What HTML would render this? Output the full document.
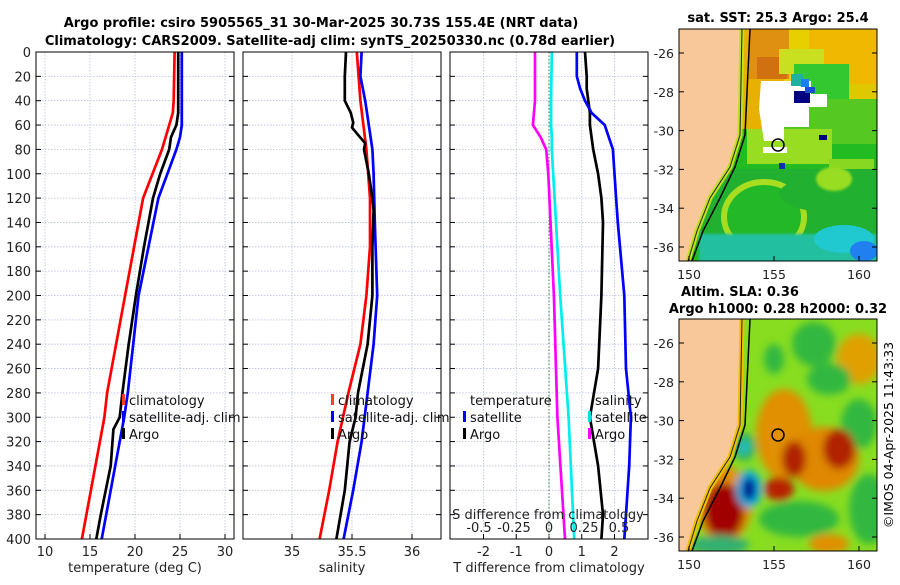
<!DOCTYPE html>
<html><head><meta charset="utf-8"><style>
body{margin:0;background:#fff;}
svg text{font-family:"DejaVu Sans","Liberation Sans",sans-serif;}
</style></head><body>
<svg id="fig" width="900" height="580" viewBox="0 0 900 580" xmlns="http://www.w3.org/2000/svg">
<defs>
<clipPath id="c1"><rect x="0" y="0" width="198" height="232"/></clipPath>
<filter id="bl" x="-20%" y="-20%" width="140%" height="140%"><feGaussianBlur stdDeviation="4"/></filter>
<filter id="bl2"><feGaussianBlur stdDeviation="1.2"/></filter>
</defs>
<text x="321" y="27" font-size="13" font-weight="bold" text-anchor="middle">Argo profile: csiro 5905565_31 30-Mar-2025 30.73S 155.4E (NRT data)</text>
<text x="330" y="45" font-size="13" font-weight="bold" text-anchor="middle">Climatology: CARS2009. Satellite-adj clim: synTS_20250330.nc (0.78d earlier)</text>
<g id="plots"></g>

<!-- Map 1 -->
<text x="778" y="22" font-size="13" font-weight="bold" text-anchor="middle">sat. SST: 25.3 Argo: 25.4</text>
<g transform="translate(679,29)">
 <g clip-path="url(#c1)">
  <rect width="198" height="232" fill="#22bb22"/>
  <rect width="198" height="75" fill="#e8d000"/>
  <rect x="130" y="0" width="68" height="60" fill="#f0b800"/>
  <rect x="150" y="55" width="48" height="22" fill="#e0c800"/>
  <rect x="60" y="0" width="45" height="100" fill="#e8b000"/>
  <rect x="70" y="0" width="40" height="50" fill="#e09010"/>
  <rect x="78" y="28" width="30" height="22" fill="#d07010"/>
  <rect x="100" y="20" width="45" height="25" fill="#c8e020"/>
  <rect x="115" y="35" width="55" height="35" fill="#33c830"/>
  <rect x="95" y="70" width="103" height="45" fill="#55c822"/>
  <rect x="68" y="100" width="85" height="35" fill="#99dd22"/>
  <rect x="150" y="130" width="45" height="40" fill="#88d822"/>
  <polygon points="82,52 132,52 132,65 148,65 148,78 130,78 130,98 105,98 105,112 85,112 80,80" fill="#fff"/>
  <rect x="84" y="118" width="24" height="6" fill="#fff"/>
  <rect x="115" y="62" width="16" height="12" fill="#000080"/>
  <rect x="126" y="58" width="10" height="6" fill="#1a50d0"/>
  <rect x="112" y="45" width="12" height="12" fill="#20b0a0"/>
  <rect x="122" y="50" width="8" height="8" fill="#1a80f0"/>
  <rect x="140" y="106" width="8" height="5" fill="#000080"/>
  <rect x="100" y="134" width="6" height="6" fill="#1030b0"/>
  <rect x="20" y="140" width="178" height="95" fill="#22b030"/>
  <ellipse cx="85" cy="188" rx="40" ry="35" fill="#22b828" stroke="#a8dd22" stroke-width="6"/>
  <ellipse cx="150" cy="165" rx="50" ry="18" fill="#22b030"/>
  <ellipse cx="155" cy="150" rx="18" ry="12" fill="#99dd22" filter="url(#bl2)"/>
  <rect x="20" y="205" width="178" height="30" fill="#22c0a0" filter="url(#bl2)"/>
  <ellipse cx="165" cy="210" rx="30" ry="14" fill="#20c8d0"/>
  <ellipse cx="185" cy="222" rx="14" ry="10" fill="#2080f0"/>
  <polygon points="0,0 63,0 61,106 51,138 31,169 18,202 9,232 0,232" fill="#f9c89a"/>
  <polyline points="63,0 61,106 51,138 31,169 18,202 9,232" fill="none" stroke="#c0e020" stroke-width="5"/>
  <polyline points="63,0 61,106 51,138 31,169 18,202 9,232" fill="none" stroke="#222" stroke-width="1"/>
  <polyline points="71,0 66,106 56,138 41,169 24,202 13,232" fill="none" stroke="#000" stroke-width="1.5"/>
  <circle cx="99" cy="116" r="6" fill="none" stroke="#000" stroke-width="1.5"/>
 </g>
 <rect width="198" height="232" fill="none" stroke="#000" stroke-width="1"/>
</g>
<text x="740" y="296" font-size="13" font-weight="bold" text-anchor="middle">Altim. SLA: 0.36</text>
<text x="778" y="313" font-size="13" font-weight="bold" text-anchor="middle">Argo h1000: 0.28 h2000: 0.32</text>
<g transform="translate(679,319)">
 <g clip-path="url(#c1)">
  <rect width="198" height="232" fill="#88dd20"/>
  <g filter="url(#bl)">
   <ellipse cx="135" cy="25" rx="22" ry="22" fill="#30b840"/>
   <ellipse cx="180" cy="40" rx="22" ry="25" fill="#e0a000"/>
   <ellipse cx="150" cy="60" rx="22" ry="16" fill="#30b840"/>
   <ellipse cx="95" cy="40" rx="10" ry="15" fill="#30b840"/>
   <ellipse cx="180" cy="105" rx="18" ry="25" fill="#30b840"/>
   <ellipse cx="105" cy="115" rx="28" ry="45" fill="#e09000"/>
   <ellipse cx="145" cy="140" rx="35" ry="32" fill="#e08800"/>
   <ellipse cx="115" cy="140" rx="12" ry="18" fill="#b02000"/>
   <ellipse cx="160" cy="130" rx="16" ry="20" fill="#b02000"/>
   <ellipse cx="120" cy="200" rx="40" ry="18" fill="#30b840"/>
   <ellipse cx="100" cy="170" rx="15" ry="12" fill="#b82000"/>
   <ellipse cx="45" cy="185" rx="28" ry="38" fill="#e09000"/>
   <ellipse cx="45" cy="192" rx="20" ry="28" fill="#a00000"/>
   <ellipse cx="70" cy="170" rx="13" ry="19" fill="#10b0e0"/>
   <ellipse cx="70" cy="170" rx="7" ry="12" fill="#000090"/>
   <ellipse cx="65" cy="128" rx="12" ry="14" fill="#30b060"/>
   <ellipse cx="65" cy="128" rx="6" ry="7" fill="#20c0c0"/>
   <ellipse cx="190" cy="190" rx="20" ry="35" fill="#30b840"/>
   <ellipse cx="40" cy="226" rx="30" ry="10" fill="#30b070"/>
   <ellipse cx="150" cy="225" rx="20" ry="10" fill="#e09000"/>
  </g>
  <polygon points="0,0 63,0 61,106 51,138 31,169 18,202 9,232 0,232" fill="#f9c89a"/>
  <polyline points="63,0 61,106 51,138 31,169 18,202 9,232" fill="none" stroke="#f0c000" stroke-width="5"/>
  <polyline points="63,0 61,106 51,138 31,169 18,202 9,232" fill="none" stroke="#222" stroke-width="1"/>
  <polyline points="71,0 66,106 56,138 41,169 24,202 13,232" fill="none" stroke="#000" stroke-width="1.5"/>
  <circle cx="99" cy="116" r="6" fill="none" stroke="#000" stroke-width="1.5"/>
 </g>
 <rect width="198" height="232" fill="none" stroke="#000" stroke-width="1"/>
</g>
<g id="maplabels"></g>
<text transform="translate(893,435) rotate(-90)" font-size="12.5" text-anchor="middle">©IMOS 04-Apr-2025 11:43:33</text>
</svg>
<script>
// ---- data ----
const depthsTClim = [0,40,50,80,120,200,280,300,400];
const tempClim    = [24.4,24.3,24.2,23.0,20.9,18.9,16.9,16.6,14.1];
const depthsTSat  = [0,60,70,80,100,120,200,280,300,400];
const tempSat     = [25.2,25.2,25.0,24.6,23.6,22.6,20.4,19.2,18.8,16.3];
const depthsTArgo = [0,50,60,70,80,100,120,160,200,240,280,300,310,340,380,400];
const tempArgo    = [24.8,24.8,24.6,24.0,23.8,22.8,22.0,21.0,20.1,19.3,18.6,18.3,17.6,17.3,16.2,15.7];
const depthsSClim = [0,40,80,120,160,200,240,280,320,360,400];
const salClim     = [35.54,35.57,35.62,35.65,35.65,35.62,35.57,35.47,35.38,35.31,35.23];
const depthsSSat  = [0,20,40,60,80,100,140,200,240,280,320,360,400];
const salSat      = [35.58,35.57,35.61,35.64,35.67,35.68,35.69,35.71,35.68,35.63,35.58,35.51,35.43];
const depthsSArgo = [0,20,40,50,58,62,68,75,80,100,120,130,160,200,240,280,300,320,360,400];
const salArgo     = [35.45,35.44,35.44,35.49,35.51,35.50,35.55,35.61,35.60,35.64,35.67,35.68,35.67,35.67,35.63,35.55,35.53,35.48,35.44,35.37];
const depthsDT    = [0,20,30,40,50,60,80,100,120,140,200,260,300,340,380,400];
const dTSat       = [0.85,0.85,0.95,1.1,1.3,1.7,1.95,2.0,2.05,2.1,2.3,2.35,2.5,2.45,2.35,2.3];
const dTArgo      = [1.1,1.15,1.15,1.2,1.25,1.25,1.35,1.5,1.6,1.65,1.6,1.5,1.25,1.5,1.65,1.6];
const depthsDS    = [0,40,60,70,80,100,200,300,400];
const dSArgo      = [-0.1,-0.1,-0.115,-0.06,-0.02,-0.005,0.035,0.06,0.114];
const dSSat       = [0.02,0.015,0.015,0.02,0.02,0.03,0.08,0.14,0.18];
const depthTicks  = [0,20,40,60,80,100,120,140,160,180,200,220,240,260,280,300,320,340,360,380,400];
const tempTicks   = [10,15,20,25,30];
const salTicks    = [35,35.5,36];
const dTTicks     = [-2,-1,0,1,2];
const dSTicks     = [-0.5,-0.25,0,0.25,0.5];
const latTicks    = [-26,-28,-30,-32,-34,-36];
const lonTicks    = [150,155,160];

const NS="http://www.w3.org/2000/svg";
const G=document.getElementById('plots');
function el(tag,attrs,parent){const e=document.createElementNS(NS,tag);for(const k in attrs)e.setAttribute(k,attrs[k]);(parent||G).appendChild(e);return e;}
const top0=52,bot0=539;
const yD=d=>top0+(bot0-top0)*d/400;
function lin(d0,d1,r0,r1){return v=>r0+(v-d0)*(r1-r0)/(d1-d0);}

const panels=[
 {x0:36,x1:234,sx:lin(10,30,45,225),ticks:tempTicks,label:'temperature (deg C)',name:'temperature-panel'},
 {x0:243,x1:441,sx:lin(35,36,292,412),ticks:salTicks,label:'salinity',name:'salinity-panel'},
 {x0:450,x1:648,sx:lin(-2,2,483.5,614.5),ticks:dTTicks,label:'T difference from climatology',name:'difference-panel'}
];
panels.forEach((p,i)=>{
 const g=el('g',{});
 
 
 el('rect',{x:p.x0,y:top0,width:p.x1-p.x0,height:bot0-top0,fill:'#fff'},g);
 depthTicks.forEach(d=>{
  const l=el('line',{x1:p.x0,x2:p.x1,y1:yD(d),y2:yD(d),stroke:'#b8c0dd','stroke-width':0.8,'stroke-dasharray':'1.5,1.5'},g);
  
  
  el('line',{x1:p.x0,x2:p.x0+5,y1:yD(d),y2:yD(d),stroke:'#000'},g);
  el('line',{x1:p.x1,x2:p.x1-5,y1:yD(d),y2:yD(d),stroke:'#000'},g);
  if(i===0){const t=el('text',{x:p.x0-5,y:yD(d)+5,'font-size':13,'text-anchor':'end',fill:'#222'},g);t.textContent=d;
   
   }
 });
 p.ticks.forEach(v=>{
  const x=p.sx(v);
  el('line',{x1:x,x2:x,y1:top0,y2:bot0,stroke:'#b8c0dd','stroke-width':0.8,'stroke-dasharray':'1.5,1.5'},g);
  el('line',{x1:x,x2:x,y1:bot0,y2:bot0-5,stroke:'#000'},g);
  const t=el('text',{x:x,y:bot0+17,'font-size':13,'text-anchor':'middle',fill:'#222'},g);t.textContent=v;
  
  
 });
 const lab=el('text',{x:(p.x0+p.x1)/2,y:572,'font-size':13,'text-anchor':'middle',fill:'#222'},g);lab.textContent=p.label;
 
 
});
el('line',{x1:549,x2:549,y1:top0,y2:bot0,stroke:'#447744','stroke-width':1,'stroke-dasharray':'1.5,2'});

function series(depths,vals,sx,color,name){
 const pts=vals.map((v,k)=>sx(v).toFixed(1)+','+yD(depths[k]).toFixed(1)).join(' ');
 const pl=el('polyline',{points:pts,fill:'none',stroke:color,'stroke-width':2.7,'stroke-linejoin':'round'});
 
 
}
const sT=panels[0].sx,sS=panels[1].sx,sDT=panels[2].sx,sDS=lin(-0.5,0.5,479,619);
series(depthsTClim,tempClim,sT,'#ff0000','temp-climatology-line');
series(depthsTSat,tempSat,sT,'#0000ff','temp-satellite-line');
series(depthsTArgo,tempArgo,sT,'#000','temp-argo-line');
series(depthsSClim,salClim,sS,'#ff0000','sal-climatology-line');
series(depthsSSat,salSat,sS,'#0000ff','sal-satellite-line');
series(depthsSArgo,salArgo,sS,'#000','sal-argo-line');
series(depthsDS,dSArgo,sDS,'#ff00ff','sdiff-argo-line');
series(depthsDS,dSSat,sDS,'#00eeee','sdiff-satellite-line');
series(depthsDT,dTArgo,sDT,'#000','tdiff-argo-line');
series(depthsDT,dTSat,sDT,'#0000ff','tdiff-satellite-line');

panels.forEach(p=>{
 const f=el('rect',{x:p.x0,y:top0,width:p.x1-p.x0,height:bot0-top0,fill:'none',stroke:'#000','stroke-width':1});
 
 
});
dSTicks.forEach(v=>{
 const t=el('text',{x:sDS(v),y:532,'font-size':13,'text-anchor':'middle',fill:'#222'});t.textContent=v;
 
 
});
{const t=el('text',{x:548,y:519,'font-size':13,'text-anchor':'middle',fill:'#222'});t.textContent='S difference from climatology';
 
 }

function legend(x,y,items){
 items.forEach((it,k)=>{
  const yy=y+k*17;
  if(it.c){el('rect',{x:x,y:yy-11,width:3,height:11,fill:it.c});}
  const t=el('text',{x:x+7,y:yy,'font-size':13,fill:'#111'});t.textContent=it.t;
  
  
 });
}
legend(122,405,[{c:'#ff4020',t:'climatology'},{c:'#0000ff',t:'satellite-adj. clim'},{c:'#000',t:'Argo'}]);
legend(331,405,[{c:'#ff4020',t:'climatology'},{c:'#0000ff',t:'satellite-adj. clim'},{c:'#000',t:'Argo'}]);
legend(463,405,[{t:'temperature'},{c:'#0000ff',t:'satellite'},{c:'#000',t:'Argo'}]);
legend(588,405,[{t:'salinity'},{c:'#00dddd',t:'satellite'},{c:'#ff00ff',t:'Argo'}]);

const ML=document.getElementById('maplabels');
[29,319].forEach((ty,m)=>{
 latTicks.forEach(la=>{
  const y=ty+24+(-26-la)*19.4;
  el('line',{x1:877,x2:872,y1:y,y2:y,stroke:'#000'},ML);
  el('line',{x1:679,x2:684,y1:y,y2:y,stroke:'#000'},ML);
  const t=el('text',{x:674,y:y+5,'font-size':12.5,'text-anchor':'end',fill:'#222'},ML);t.textContent=la;
  
  
 });
 lonTicks.forEach(lo=>{
  const x=689+(lo-150)*17;
  el('line',{x1:x,x2:x,y1:ty+232,y2:ty+227,stroke:'#000'},ML);
  const t=el('text',{x:x,y:ty+232+18,'font-size':12.5,'text-anchor':'middle',fill:'#222'},ML);t.textContent=lo;
  
  
 });
});
</script>
</body></html>
